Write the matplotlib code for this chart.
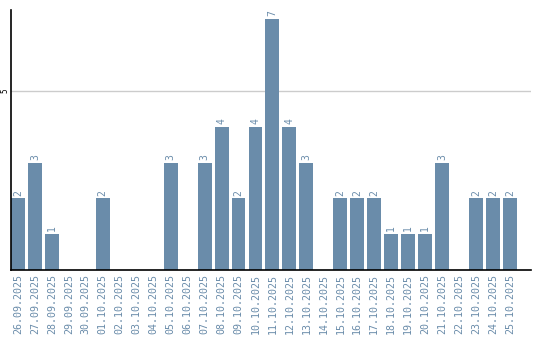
import matplotlib
matplotlib.use("Agg")
import matplotlib.pyplot as plt

dates = ["26.09.2025", "27.09.2025", "28.09.2025", "29.09.2025", "30.09.2025",
         "01.10.2025", "02.10.2025", "03.10.2025", "04.10.2025", "05.10.2025",
         "06.10.2025", "07.10.2025", "08.10.2025", "09.10.2025", "10.10.2025",
         "11.10.2025", "12.10.2025", "13.10.2025", "14.10.2025", "15.10.2025",
         "16.10.2025", "17.10.2025", "18.10.2025", "19.10.2025", "20.10.2025",
         "21.10.2025", "22.10.2025", "23.10.2025", "24.10.2025", "25.10.2025"]
values = [2, 3, 1, 0, 0, 2, 0, 0, 0, 3, 0, 3, 4, 2, 4, 7, 4, 3, 0, 2,
          2, 2, 1, 1, 1, 3, 0, 2, 2, 2]

bar_color = "#6a8caa"
text_color = "#6a8caa"

fig = plt.figure(figsize=(5.4, 3.4), dpi=100)
ax = fig.add_axes([11/540, 70/340, 520/540, 260/340])

x = list(range(len(dates)))
ax.bar(x, values, width=0.82, color=bar_color, zorder=2)
for xi, v in zip(x, values):
    if v > 0:
        ax.text(xi, v + 0.08, str(v), rotation=90, ha="center", va="bottom",
                fontsize=7, color=text_color, family="DejaVu Sans Mono")

ax.set_xlim(-0.41, 30.24)
ax.set_ylim(0, 7.26)
ax.set_yticks([5])
ax.set_yticklabels(["5"], rotation=90, va="center", fontsize=5.5,
                   family="DejaVu Sans Mono")
ax.yaxis.grid(True, color="#cccccc", linewidth=1, zorder=0)
ax.set_xticks(x)
ax.set_xticklabels(dates, rotation=90, fontsize=7.2, color=text_color,
                   family="DejaVu Sans Mono")
ax.tick_params(axis="both", length=0, pad=3)
ax.tick_params(axis="y", pad=1)
for s in ["top", "right"]:
    ax.spines[s].set_visible(False)
ax.spines["left"].set_color("black")
ax.spines["bottom"].set_color("black")
ax.spines["left"].set_linewidth(1.2)
ax.spines["bottom"].set_linewidth(1.2)

fig.savefig("out.png", dpi=100)
